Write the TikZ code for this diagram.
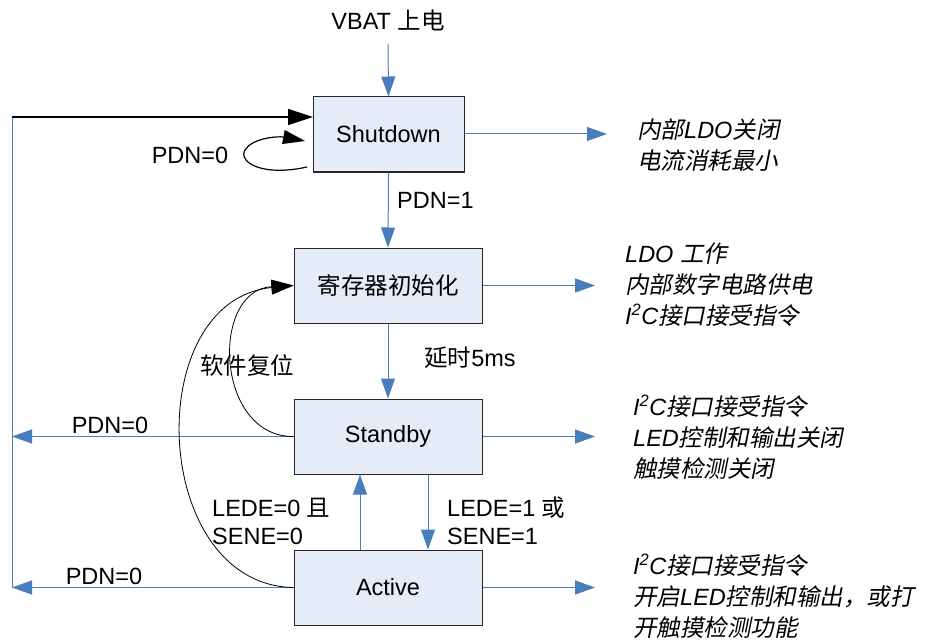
\documentclass[tikz,border=0pt]{standalone}
\usepackage{fontspec}
\setmainfont{Liberation Sans}
\newfontfamily\cj{Noto Sans CJK SC}
\newfontfamily\cji[FakeSlant=0.2]{Noto Sans CJK SC}
\usetikzlibrary{arrows.meta}
\definecolor{lblue}{HTML}{4A7EBB}
\definecolor{boxfill}{HTML}{E5ECF7}
\begin{document}
\begin{tikzpicture}[x=1pt,y=-1pt,
  every node/.style={font=\fontsize{23.5}{31}\selectfont, inner sep=0pt},
  state/.style={draw=black!85, line width=1pt, fill=boxfill, minimum width=188pt, minimum height=75pt},
  bl/.style={draw=lblue, line width=1pt},
  bla/.style={draw=lblue, line width=1pt, -{Triangle[length=20pt,width=14pt]}},
  blk/.style={draw=black, line width=1.5pt, -{Triangle[length=25pt,width=16pt]}},
  thinblk/.style={draw=black, line width=0.8pt, -{Triangle[length=22pt,width=14pt]}},
  note/.style={align=left, anchor=west, font=\fontsize{23.5}{31}\selectfont\itshape},
  cond/.style={align=left, anchor=west, font=\fontsize{23.5}{28}\selectfont}
]
\useasboundingbox (0,0) rectangle (925,639);

% states
\node[state, minimum width=151pt] (sd) at (388.5,134.5) {Shutdown};
\node[state] (init) at (388,285.5) {\cj 寄存器初始化};
\node[state] (std) at (388,436.5) {Standby};
\node[state] (act) at (388,587.5) {Active};

% power on
\node (vbat) at (388,20) {VBAT {\cj 上电}};
\coordinate (v0) at (388,44);
\draw[bla] (v0) -- (sd.north);

% main transitions
\draw[bla] (sd.south) -- (init.north);
\node[anchor=west] (p1) at (397,200) {PDN=1};
\draw[bla] (init.south) -- (std.north);
\node (d5) at (470,358) {{\cj 延时}5ms};
\draw[bla] ([xshift=40pt]std.south) -- ([xshift=40pt]act.north);
\draw[bla] ([xshift=-28pt]act.north) -- ([xshift=-28pt]std.south);
\node[cond] (c1) at (212,521) {LEDE=0 {\cj 且}\\SENE=0};
\node[cond] (c2) at (447,521) {LEDE=1 {\cj 或}\\SENE=1};

% right outputs
\coordinate (r1) at (607,134);
\coordinate (r2) at (595,285.5);
\coordinate (r3) at (595,436.5);
\coordinate (r4) at (595,587.5);
\draw[bla] (sd.east |- r1) -- (r1);
\draw[bla] (init.east) -- (r2);
\draw[bla] (std.east) -- (r3);
\draw[bla] (act.east) -- (r4);

% annotations
\node[note] (n1) at (637,145) {{\cji 内部}LDO{\cji 关闭}\\{\cji 电流消耗最小}};
\node[note] (n2) at (625,285) {LDO {\cji 工作}\\{\cji 内部数字电路供电}\\I\textsuperscript{2}C{\cji 接口接受指令}};
\node[note] (n3) at (633,437.5) {I\textsuperscript{2}C{\cji 接口接受指令}\\LED{\cji 控制和输出关闭}\\{\cji 触摸检测关闭}};
\node[note] (n4) at (633,596) {I\textsuperscript{2}C{\cji 接口接受指令}\\{\cji 开启}LED{\cji 控制和输出，或打}\\{\cji 开触摸检测功能}};

% PDN=0 returns
\coordinate (L1) at (12,436.5);
\coordinate (L2) at (12,587.5);
\coordinate (Lt) at (12,117);
\coordinate (St) at (313,117);
\draw[bla] (std.west) -- (L1);
\draw[bla] (act.west) -- (L2);
\draw[bl] (L2) -- (Lt);
\draw[blk] (Lt) -- (St);
\node (p0a) at (110,425) {PDN=0};
\node (p0b) at (104,576) {PDN=0};

% self loop
\coordinate (s1) at (307,167);
\coordinate (s2) at (305,141);
\draw[thinblk, line width=1.2pt] (s1) .. controls (262,177) and (238,162) .. (245,150) .. controls (252,138) and (278,136) .. (s2);
\node (p0c) at (190,155) {PDN=0};

% software reset
\draw[thinblk] (std.west) .. controls (215,437) and (210,290) .. (init.west);
\draw[thinblk] (act.west) .. controls (150,585) and (140,300) .. (init.west);
\node (sr) at (247,365) {\cj 软件复位};
\end{tikzpicture}
\end{document}
